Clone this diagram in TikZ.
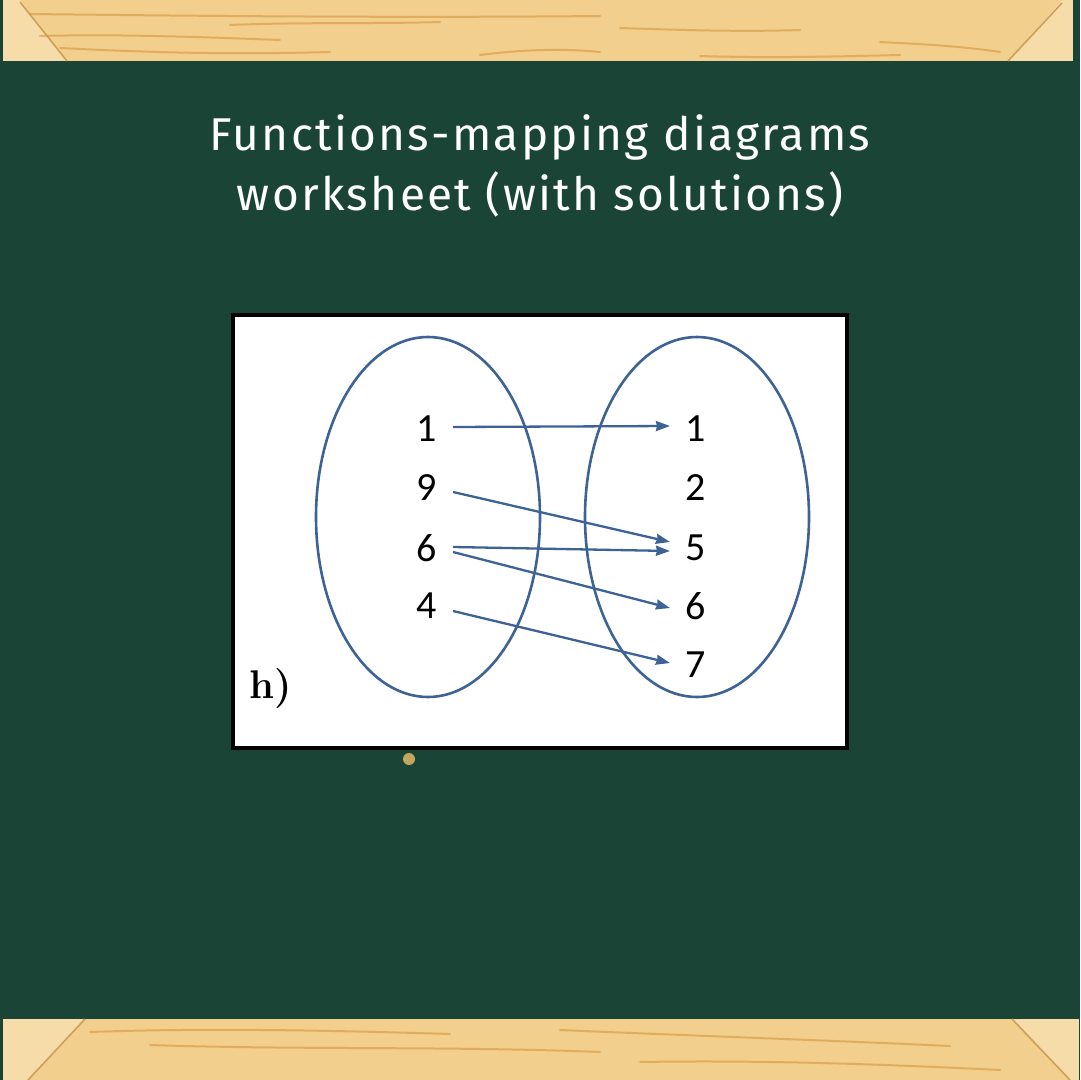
\documentclass[tikz,border=0pt]{standalone}
\usepackage{fontspec}
\usetikzlibrary{arrows.meta}
\newfontfamily\chalkfont[LetterSpace=5]{Fira Sans}
\newfontfamily\numfont{Carlito}
\definecolor{board}{RGB}{26,69,54}
\definecolor{wood}{RGB}{242,207,140}
\definecolor{woodside}{RGB}{246,220,168}
\definecolor{woodedge}{RGB}{205,160,90}
\definecolor{grain}{RGB}{212,145,58}
\definecolor{setblue}{RGB}{60,98,150}
\definecolor{pincolor}{RGB}{198,166,92}
\tikzset{
  elem/.style={inner sep=0.75pt, font=\numfont\fontsize{20}{23}\selectfont},
  mapto/.style={draw=setblue, line width=1.15pt, -{Stealth[length=7pt,width=5pt,inset=0.5pt]}},
  setring/.style={draw=setblue, line width=1.3pt},
  grainline/.style={draw=grain, line width=1pt, opacity=0.55, line cap=round},
}
\begin{document}
\begin{tikzpicture}[x=0.5pt,y=0.5pt,yscale=-1,xscale=1]
\useasboundingbox (0,0) rectangle (1080,1080);

%Shape: Board
\fill [board] (0,0) rectangle (1080,1080);

%Shape: Frame top
\fill [woodside] (3,0) rectangle (1073,61);
\fill [wood] (20,0) -- (1062,0) -- (1008,61) -- (67,61) -- cycle ;
\draw [woodedge, line width=0.8pt] (20,2) -- (67,61) ;
\draw [woodedge, line width=0.8pt] (1062,3) -- (1008,61) ;
\draw [grainline] (30,14) .. controls (200,16) and (400,18) .. (600,16) ;
\draw [grainline] (40,36) .. controls (120,34) and (200,37) .. (280,40) ;
\draw [grainline] (60,48) .. controls (140,52) and (220,55) .. (330,52) ;
\draw [grainline] (230,25) .. controls (300,22) and (380,24) .. (440,22) ;
\draw [grainline] (480,55) .. controls (520,50) and (560,48) .. (600,52) ;
\draw [grainline] (620,28) .. controls (680,30) and (740,32) .. (800,30) ;
\draw [grainline] (880,42) .. controls (920,44) and (960,46) .. (1000,52) ;
\draw [grainline] (700,56) .. controls (760,58) and (820,57) .. (900,55) ;

%Shape: Frame bottom
\fill [woodside] (3,1019) rectangle (1079,1080);
\fill [wood] (85,1019) -- (1012,1019) -- (1070,1080) -- (28,1080) -- cycle ;
\draw [woodedge, line width=0.8pt] (85,1019) -- (28,1080) ;
\draw [woodedge, line width=0.8pt] (1012,1019) -- (1070,1080) ;
\draw [grainline] (90,1032) .. controls (200,1028) and (320,1030) .. (450,1034) ;
\draw [grainline] (150,1045) .. controls (300,1050) and (450,1046) .. (600,1052) ;
\draw [grainline] (560,1030) .. controls (700,1036) and (820,1040) .. (950,1046) ;
\draw [grainline] (640,1062) .. controls (760,1060) and (880,1064) .. (1000,1070) ;

% Text Node
\node (title) [text=white, align=center, font=\chalkfont\fontsize{23}{30}\selectfont] at (540,166) {Functions-mapping diagrams\\worksheet (with solutions)};

%Shape: Card
\draw [black, fill=white, line width=2.2pt] (233,315) rectangle (847,748) ;

%Shape: Ellipse
\draw [setring] (428,517) ellipse [x radius=112, y radius=180] ;
%Shape: Ellipse
\draw [setring] (697,517) ellipse [x radius=112, y radius=180] ;

% Text Node
\node (l1) [elem] at (427,429) {1};
\node (l9) [elem] at (427,488) {9};
\node (l6) [elem] at (427,548) {6};
\node (l4) [elem] at (427,606) {4};
% Text Node
\node (r1) [elem] at (696,429) {1};
\node (r2) [elem] at (696,488) {2};
\node (r5) [elem] at (696,548) {5};
\node (r6) [elem] at (696,606) {6};
\node (r7) [elem] at (696,665) {7};

%Straight Lines
\draw [mapto] ([xshift=7pt,yshift=-1pt]l1.east) -- ([xshift=-7pt,yshift=-1.5pt]r1.west) ;
\draw [mapto] ([xshift=7pt,yshift=2pt]l9.east) -- ([xshift=-7pt,yshift=-3pt]r5.west) ;
\draw [mapto] ([xshift=7pt,yshift=-0.5pt]l6.east) -- ([xshift=-7pt,yshift=1.5pt]r5.west) ;
\draw [mapto] ([xshift=7pt,yshift=2pt]l6.east) -- ([xshift=-7pt,yshift=1pt]r6.west) ;
\draw [mapto] ([xshift=7pt,yshift=2.5pt]l4.east) -- ([xshift=-7pt,yshift=-1pt]r7.west) ;

% Text Node
\node (label) [font=\fontsize{20}{24}\selectfont\bfseries] at (271,689) {h)};

%Shape: Pin
\fill [pincolor] (409,759) circle [radius=6] ;
\end{tikzpicture}
\end{document}
